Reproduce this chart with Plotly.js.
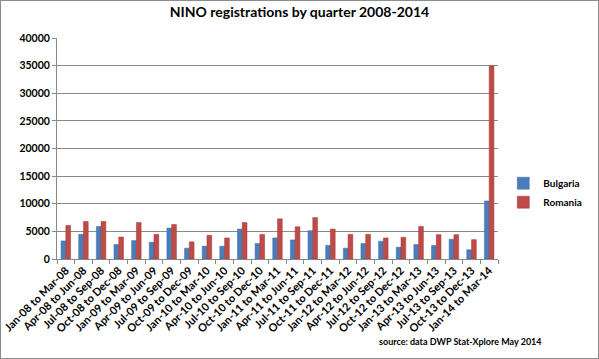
<!DOCTYPE html>
<html>
<head>
<meta charset="utf-8">
<script src="https://cdn.plot.ly/plotly-3.0.1.min.js"></script>
<style>
html,body{margin:0;padding:0;background:#fff;}
#wrap{position:relative;width:599px;height:359px;}
#chart{width:599px;height:359px;}
#frame{position:absolute;left:0;top:0;width:599px;height:359px;box-sizing:border-box;border:1px solid #8c8c8c;pointer-events:none;}
</style>
</head>
<body>
<div id="wrap"><div id="chart"></div><div id="frame"></div></div>
<script>
const quarters = [
  "Jan-08 to Mar-08","Apr-08 to Jun-08","Jul-08 to Sep-08","Oct-08 to Dec-08",
  "Jan-09 to Mar-09","Apr-09 to Jun-09","Jul-09 to Sep-09","Oct-09 to Dec-09",
  "Jan-10 to Mar-10","Apr-10 to Jun-10","Jul-10 to Sep-10","Oct-10 to Dec-10",
  "Jan-11 to Mar-11","Apr-11 to Jun-11","Jul-11 to Sep-11","Oct-11 to Dec-11",
  "Jan-12 to Mar-12","Apr-12 to Jun-12","Jul-12 to Sep-12","Oct-12 to Dec-12",
  "Jan-13 to Mar-13","Apr-13 to Jun-13","Jul-13 to Sep-13","Oct-13 to Dec-13",
  "Jan-14 to Mar-14"
];
const bulgaria = [3270,4460,5890,2620,3330,3040,5600,1960,2320,2320,5420,2800,
  3810,3450,5120,2450,1960,2800,3210,2140,2620,2440,3570,1670,10500];
const romania = [6070,6790,6800,3980,6600,4460,6250,3100,4290,3810,6600,4460,
  7270,5840,7500,5420,4460,4460,3810,3930,5900,4400,4400,3510,34950];
const yTicks = [0,5000,10000,15000,20000,25000,30000,35000,40000];

const FONT = "Lato, 'Open Sans', sans-serif";

const traces = [
  {type:"bar", name:"Bulgaria", x:quarters, y:bulgaria,
   marker:{color:"#4a7ebb", line:{color:"#3a6aa5", width:0.5}}},
  {type:"bar", name:"Romania", x:quarters, y:romania,
   marker:{color:"#be4b48", line:{color:"#a33a37", width:0.5}}}
];

const layout = {
  width:599, height:359,
  margin:{l:57, r:77, t:38, b:100, pad:0},
  paper_bgcolor:"#fff", plot_bgcolor:"#fff",
  font:{family:FONT, color:"#000"},
  title:{text:"<b>NINO registrations by quarter 2008-2014</b>",
    font:{family:FONT, size:14, color:"#000"}, x:0.5, xanchor:"center", y:0.965, yanchor:"middle"},
  barmode:"group", bargap:0.46, bargroupgap:0,
  showlegend:true,
  legend:{x:1.012, xanchor:"left", y:0.30, yanchor:"middle",
    font:{family:FONT, size:10, color:"#000", weight:"bold"},
    bgcolor:"rgba(0,0,0,0)", itemwidth:30, tracegroupgap:6},
  xaxis:{type:"category", tickangle:-45, ticks:"outside", tickson:"boundaries",
    ticklen:4, tickcolor:"#888", showline:true, linecolor:"#888", linewidth:1,
    showgrid:false, tickfont:{family:FONT, size:11, color:"#000", weight:"bold"}},
  yaxis:{range:[0,40000], tickvals:yTicks, ticktext:yTicks.map(String),
    ticks:"outside", ticklen:4, tickcolor:"#888", showline:true, linecolor:"#888", linewidth:1,
    showgrid:true, gridcolor:"#8a8a8a", gridwidth:1, zeroline:false,
    tickfont:{family:FONT, size:10.5, color:"#000", weight:"bold"}},
  annotations:[{xref:"paper", yref:"paper", x:1.105, y:-0.372, xanchor:"right", yanchor:"middle",
    text:"<b>source: data DWP Stat-Xplore May 2014</b>", showarrow:false,
    font:{family:FONT, size:9, color:"#000"}}]
};

Plotly.newPlot("chart", traces, layout, {displayModeBar:false, staticPlot:true});
</script>
</body>
</html>
